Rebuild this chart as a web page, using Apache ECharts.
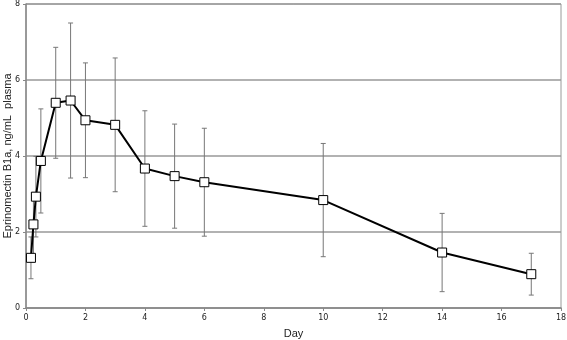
<!DOCTYPE html>
<html>
<head>
<meta charset="utf-8">
<script src="https://cdn.jsdelivr.net/npm/echarts@6/dist/echarts.min.js"></script>
<style>
  html, body { margin: 0; padding: 0; background: #fff; }
  #chart { width: 567px; height: 340px; }
</style>
</head>
<body>
<div id="chart"></div>
<script>
// sampling days and mean plasma concentration (ng/mL)
var days = [0.167, 0.25, 0.333, 0.5, 1, 1.5, 2, 3, 4, 5, 6, 10, 14, 17];
var means = [1.32, 2.2, 2.93, 3.87, 5.40, 5.46, 4.94, 4.82, 3.67, 3.47, 3.31, 2.84, 1.46, 0.89];
// standard deviation (half length of the error bar)
var sds = [0.55, 0.84, 1.06, 1.37, 1.46, 2.04, 1.51, 1.76, 1.52, 1.37, 1.42, 1.49, 1.03, 0.55];

var xTicks = [0, 2, 4, 6, 8, 10, 12, 14, 16, 18];
var yTicks = [0, 2, 4, 6, 8];

var chart = echarts.init(document.getElementById('chart'));

var lineData = days.map(function (d, i) { return [d, means[i]]; });
var errData = days.map(function (d, i) { return [d, means[i] - sds[i], means[i] + sds[i]]; });

var option = {
  animation: false,
  backgroundColor: '#fff',
  grid: {
    left: 26, right: 6, top: 4, bottom: 32,
    outerBoundsMode: 'none',
    containLabel: false,
    show: true, borderColor: '#9a9a9a', borderWidth: 1
  },
  xAxis: {
    type: 'value',
    min: xTicks[0], max: xTicks[xTicks.length - 1], interval: 2,
    name: 'Day', nameLocation: 'middle', nameGap: 20, nameMoveOverlap: false,
    nameTextStyle: { fontFamily: 'Liberation Sans', fontSize: 11, color: '#222' },
    axisLine: { show: true, lineStyle: { color: '#888', width: 1.5 } },
    axisTick: { show: true, length: 3, lineStyle: { color: '#888' } },
    axisLabel: { fontFamily: 'DejaVu Sans', fontSize: 8, color: '#222', margin: 6 },
    splitLine: { show: false }
  },
  yAxis: {
    type: 'value',
    min: yTicks[0], max: yTicks[yTicks.length - 1], interval: 2,
    name: 'Eprinomectin B1a, ng/mL  plasma', nameLocation: 'middle', nameGap: 13,
    nameMoveOverlap: false,
    nameTextStyle: { fontFamily: 'Liberation Sans', fontSize: 11, color: '#222' },
    axisLine: { show: true, lineStyle: { color: '#888', width: 1.5 } },
    axisTick: { show: true, length: 3, lineStyle: { color: '#888' } },
    axisLabel: { fontFamily: 'DejaVu Sans', fontSize: 8, color: '#222', margin: 6 },
    splitLine: { show: true, lineStyle: { color: '#999', width: 1.5 } }
  },
  series: [
    {
      type: 'custom',
      data: errData,
      z: 1,
      renderItem: function (params, api) {
        var x = api.value(0);
        var lo = api.coord([x, api.value(1)]);
        var hi = api.coord([x, api.value(2)]);
        var cap = 2.5;
        var st = { stroke: '#777', lineWidth: 1 };
        return {
          type: 'group',
          children: [
            { type: 'line', shape: { x1: lo[0], y1: lo[1], x2: hi[0], y2: hi[1] }, style: st },
            { type: 'line', shape: { x1: lo[0] - cap, y1: lo[1], x2: lo[0] + cap, y2: lo[1] }, style: st },
            { type: 'line', shape: { x1: hi[0] - cap, y1: hi[1], x2: hi[0] + cap, y2: hi[1] }, style: st }
          ]
        };
      }
    },
    {
      type: 'line',
      data: lineData,
      z: 3,
      symbol: 'rect',
      symbolSize: 9,
      showAllSymbol: true,
      lineStyle: { color: '#000', width: 2 },
      itemStyle: { color: '#fff', borderColor: '#000', borderWidth: 1 }
    }
  ]
};

chart.setOption(option);
</script>
</body>
</html>
